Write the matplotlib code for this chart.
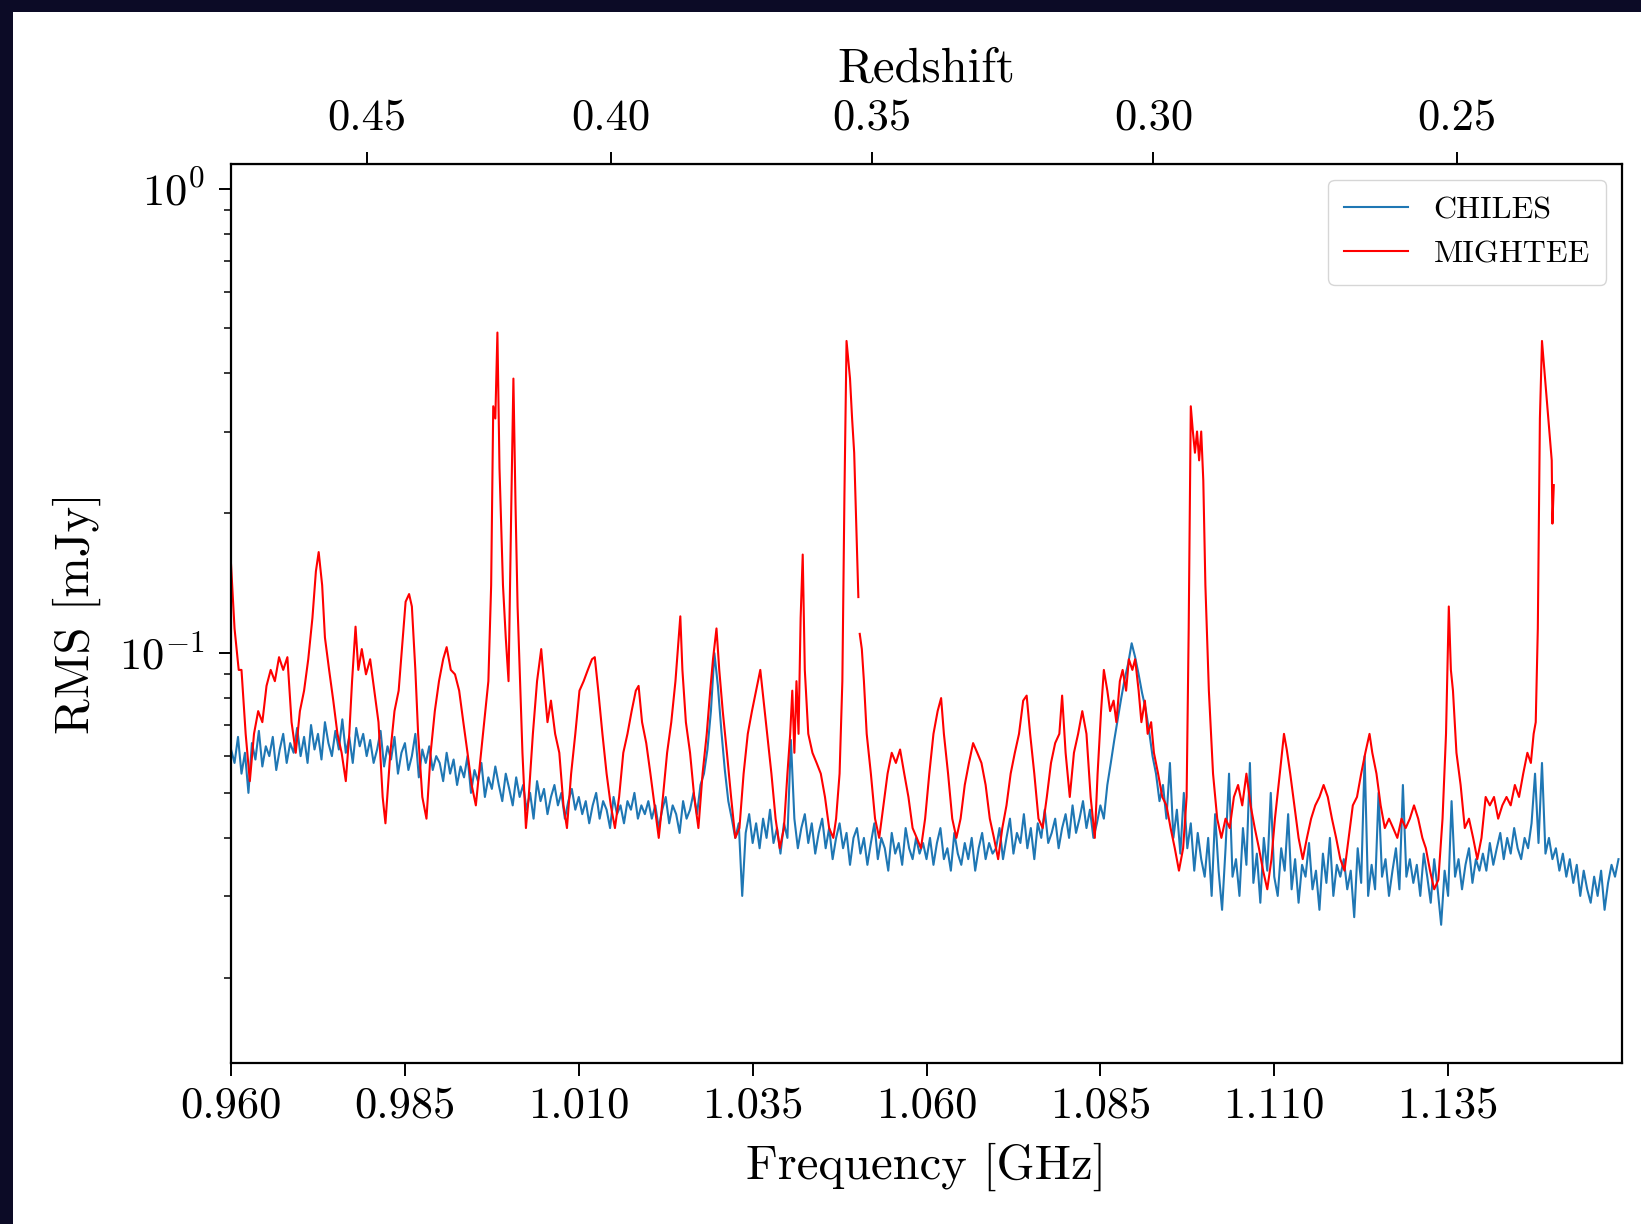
import numpy as np
import matplotlib
matplotlib.use("Agg")
import matplotlib.pyplot as plt
from matplotlib.patches import Rectangle
from matplotlib.ticker import FormatStrFormatter

plt.rcParams['font.family'] = 'serif'
plt.rcParams['font.serif'] = ['cmr10']
plt.rcParams['mathtext.fontset'] = 'cm'
plt.rcParams['axes.formatter.use_mathtext'] = True

HI_REST = 1.420405751  # GHz

# CHILES rms, one value per 0.5 MHz channel from 0.960 GHz
chiles_start = 0.960
chiles_step = 0.0005
chiles_rms = [
    0.062, 0.058, 0.066, 0.055, 0.061, 0.050, 0.064, 0.059, 0.068, 0.057, 0.063, 0.060, 0.066, 0.056, 0.062, 0.067, 0.058, 0.064, 0.061, 0.069,
    0.060, 0.066, 0.058, 0.070, 0.062, 0.067, 0.059, 0.071, 0.064, 0.060, 0.068, 0.062, 0.072, 0.061, 0.066, 0.058, 0.069, 0.063, 0.067, 0.060,
    0.065, 0.058, 0.062, 0.068, 0.057, 0.063, 0.059, 0.066, 0.055, 0.061, 0.064, 0.056, 0.060, 0.067, 0.054, 0.062, 0.058, 0.063, 0.056, 0.060,
    0.058, 0.053, 0.061, 0.055, 0.059, 0.052, 0.057, 0.054, 0.060, 0.050, 0.056, 0.053, 0.058, 0.049, 0.054, 0.051, 0.057, 0.052, 0.048, 0.055,
    0.051, 0.047, 0.054, 0.049, 0.052, 0.046, 0.050, 0.044, 0.053, 0.048, 0.051, 0.045, 0.049, 0.052, 0.047, 0.050, 0.044, 0.048, 0.051, 0.046,
    0.049, 0.045, 0.048, 0.043, 0.047, 0.050, 0.044, 0.048, 0.046, 0.042, 0.049, 0.045, 0.047, 0.043, 0.048, 0.046, 0.050, 0.044, 0.047, 0.045,
    0.048, 0.044, 0.047, 0.042, 0.046, 0.049, 0.043, 0.047, 0.045, 0.041, 0.048, 0.044, 0.046, 0.050, 0.045, 0.052, 0.055, 0.062, 0.075, 0.100,
    0.085, 0.068, 0.056, 0.048, 0.044, 0.040, 0.043, 0.030, 0.041, 0.045, 0.039, 0.043, 0.038, 0.044, 0.040, 0.046, 0.039, 0.042, 0.037, 0.043,
    0.040, 0.065, 0.044, 0.038, 0.042, 0.045, 0.039, 0.043, 0.037, 0.041, 0.044, 0.038, 0.042, 0.036, 0.040, 0.043, 0.038, 0.041, 0.035, 0.040,
    0.042, 0.037, 0.040, 0.035, 0.039, 0.043, 0.036, 0.040, 0.038, 0.034, 0.041, 0.037, 0.039, 0.035, 0.042, 0.038, 0.036, 0.040, 0.037, 0.039,
    0.036, 0.040, 0.035, 0.039, 0.042, 0.036, 0.038, 0.034, 0.041, 0.037, 0.035, 0.039, 0.036, 0.040, 0.034, 0.038, 0.041, 0.036, 0.039, 0.037,
    0.038, 0.042, 0.036, 0.040, 0.044, 0.037, 0.041, 0.039, 0.045, 0.038, 0.042, 0.036, 0.043, 0.040, 0.046, 0.039, 0.041, 0.044, 0.038, 0.042,
    0.045, 0.040, 0.047, 0.041, 0.044, 0.048, 0.042, 0.046, 0.040, 0.043, 0.047, 0.044, 0.052, 0.058, 0.065, 0.072, 0.080, 0.088, 0.095, 0.105,
    0.098, 0.090, 0.082, 0.076, 0.068, 0.060, 0.055, 0.048, 0.052, 0.044, 0.058, 0.040, 0.046, 0.037, 0.050, 0.038, 0.043, 0.034, 0.041, 0.036,
    0.033, 0.040, 0.030, 0.045, 0.034, 0.028, 0.038, 0.055, 0.033, 0.036, 0.030, 0.042, 0.035, 0.058, 0.032, 0.037, 0.029, 0.040, 0.034, 0.050,
    0.033, 0.030, 0.038, 0.034, 0.045, 0.031, 0.036, 0.029, 0.035, 0.033, 0.039, 0.031, 0.034, 0.028, 0.037, 0.032, 0.040, 0.030, 0.035, 0.033,
    0.036, 0.031, 0.034, 0.027, 0.038, 0.032, 0.060, 0.030, 0.035, 0.031, 0.050, 0.033, 0.036, 0.030, 0.034, 0.038, 0.031, 0.052, 0.033, 0.036,
    0.032, 0.035, 0.030, 0.037, 0.033, 0.029, 0.036, 0.031, 0.026, 0.034, 0.030, 0.048, 0.033, 0.036, 0.031, 0.035, 0.038, 0.032, 0.036, 0.034,
    0.037, 0.034, 0.039, 0.035, 0.038, 0.041, 0.036, 0.040, 0.037, 0.042, 0.038, 0.036, 0.040, 0.038, 0.043, 0.055, 0.039, 0.058, 0.037, 0.040,
    0.036, 0.038, 0.034, 0.037, 0.033, 0.036, 0.032, 0.035, 0.030, 0.034, 0.031, 0.029, 0.033, 0.030, 0.034, 0.028, 0.032, 0.035, 0.033, 0.036,
]

# MIGHTEE rms, traced (nan = flagged channel)
mightee_freq = [
    0.9600, 0.9605, 0.9611, 0.9615, 0.9621, 0.9627, 0.9633, 0.9639, 0.9645, 0.9651, 0.9657, 0.9663, 0.9669, 0.9675, 0.9681, 0.9687,
    0.9693, 0.9699, 0.9705, 0.9711, 0.9717, 0.9722, 0.9726, 0.9731, 0.9735, 0.9741, 0.9747, 0.9753, 0.9759, 0.9765, 0.9770, 0.9774,
    0.9779, 0.9783, 0.9788, 0.9794, 0.9800, 0.9806, 0.9812, 0.9818, 0.9822, 0.9829, 0.9835, 0.9841, 0.9847, 0.9851, 0.9856, 0.9860,
    0.9865, 0.9869, 0.9875, 0.9881, 0.9887, 0.9893, 0.9899, 0.9905, 0.9910, 0.9916, 0.9922, 0.9928, 0.9934, 0.9940, 0.9946, 0.9952,
    0.9958, 0.9964, 0.9970, 0.9974, 0.9977, 0.9980, 0.9983, 0.9986, 0.9991, 0.9995, 0.9999, 1.0003, 1.0006, 1.0009, 1.0012, 1.0015,
    1.0019, 1.0024, 1.0028, 1.0034, 1.0040, 1.0046, 1.0051, 1.0055, 1.0060, 1.0066, 1.0072, 1.0078, 1.0083, 1.0089, 1.0095, 1.0101,
    1.0107, 1.0113, 1.0119, 1.0123, 1.0128, 1.0134, 1.0140, 1.0146, 1.0152, 1.0158, 1.0164, 1.0170, 1.0176, 1.0182, 1.0186, 1.0191,
    1.0197, 1.0203, 1.0209, 1.0215, 1.0221, 1.0227, 1.0233, 1.0239, 1.0243, 1.0246, 1.0249, 1.0254, 1.0260, 1.0266, 1.0272, 1.0278,
    1.0284, 1.0289, 1.0293, 1.0298, 1.0302, 1.0307, 1.0313, 1.0319, 1.0325, 1.0331, 1.0337, 1.0343, 1.0349, 1.0355, 1.0361, 1.0365,
    1.0371, 1.0377, 1.0383, 1.0389, 1.0395, 1.0400, 1.0404, 1.0407, 1.0410, 1.0413, 1.0416, 1.0419, 1.0422, 1.0425, 1.0430, 1.0436,
    1.0442, 1.0448, 1.0454, 1.0460, 1.0466, 1.0470, 1.0475, 1.0479, 1.0482, 1.0485, 1.0490, 1.0493, 1.0496, 1.0499, 1.0502, 1.0503,
    1.0504, 1.0507, 1.0510, 1.0514, 1.0520, 1.0526, 1.0532, 1.0538, 1.0544, 1.0550, 1.0556, 1.0562, 1.0568, 1.0574, 1.0580, 1.0586,
    1.0592, 1.0598, 1.0604, 1.0610, 1.0616, 1.0621, 1.0625, 1.0631, 1.0637, 1.0643, 1.0649, 1.0655, 1.0661, 1.0667, 1.0673, 1.0679,
    1.0685, 1.0691, 1.0697, 1.0703, 1.0709, 1.0715, 1.0721, 1.0727, 1.0733, 1.0739, 1.0744, 1.0749, 1.0755, 1.0761, 1.0767, 1.0773,
    1.0779, 1.0785, 1.0791, 1.0795, 1.0800, 1.0806, 1.0812, 1.0818, 1.0824, 1.0830, 1.0836, 1.0842, 1.0846, 1.0851, 1.0855, 1.0860,
    1.0864, 1.0869, 1.0873, 1.0878, 1.0882, 1.0887, 1.0891, 1.0896, 1.0900, 1.0905, 1.0909, 1.0914, 1.0918, 1.0923, 1.0927, 1.0933,
    1.0939, 1.0945, 1.0951, 1.0957, 1.0963, 1.0969, 1.0974, 1.0977, 1.0980, 1.0983, 1.0986, 1.0989, 1.0992, 1.0995, 1.0998, 1.1001,
    1.1006, 1.1012, 1.1018, 1.1024, 1.1030, 1.1036, 1.1042, 1.1048, 1.1054, 1.1060, 1.1066, 1.1072, 1.1078, 1.1084, 1.1090, 1.1096,
    1.1101, 1.1108, 1.1114, 1.1118, 1.1123, 1.1129, 1.1135, 1.1141, 1.1147, 1.1153, 1.1159, 1.1165, 1.1171, 1.1177, 1.1183, 1.1189,
    1.1195, 1.1201, 1.1207, 1.1213, 1.1219, 1.1225, 1.1231, 1.1237, 1.1241, 1.1247, 1.1253, 1.1259, 1.1265, 1.1271, 1.1277, 1.1283,
    1.1289, 1.1295, 1.1301, 1.1307, 1.1313, 1.1318, 1.1324, 1.1330, 1.1336, 1.1342, 1.1347, 1.1351, 1.1354, 1.1357, 1.1362, 1.1368,
    1.1374, 1.1380, 1.1386, 1.1392, 1.1398, 1.1404, 1.1410, 1.1416, 1.1422, 1.1428, 1.1434, 1.1440, 1.1446, 1.1452, 1.1458, 1.1464,
    1.1469, 1.1473, 1.1476, 1.1479, 1.1482, 1.1485, 1.1490, 1.1494, 1.1499, 1.1500, 1.1502,
]
mightee_rms = [
    0.155, 0.113, 0.092, 0.092, 0.067, 0.053, 0.067, 0.075, 0.071, 0.085, 0.092, 0.087, 0.098, 0.092, 0.098, 0.071,
    0.061, 0.075, 0.083, 0.097, 0.119, 0.150, 0.165, 0.140, 0.108, 0.092, 0.079, 0.067, 0.061, 0.053, 0.067, 0.087,
    0.114, 0.092, 0.102, 0.090, 0.097, 0.083, 0.071, 0.049, 0.043, 0.061, 0.075, 0.083, 0.108, 0.129, 0.134, 0.126,
    0.092, 0.067, 0.049, 0.044, 0.061, 0.075, 0.087, 0.097, 0.103, 0.092, 0.090, 0.083, 0.071, 0.061, 0.052, 0.047,
    0.058, 0.071, 0.087, 0.140, 0.340, 0.320, 0.490, 0.250, 0.140, 0.108, 0.087, 0.210, 0.390, 0.210, 0.126, 0.092,
    0.061, 0.042, 0.049, 0.067, 0.087, 0.102, 0.083, 0.071, 0.079, 0.067, 0.061, 0.047, 0.042, 0.055, 0.067, 0.083,
    0.087, 0.092, 0.097, 0.098, 0.083, 0.067, 0.055, 0.047, 0.042, 0.049, 0.061, 0.067, 0.075, 0.083, 0.085, 0.071,
    0.064, 0.055, 0.047, 0.040, 0.049, 0.061, 0.071, 0.087, 0.105, 0.120, 0.092, 0.071, 0.061, 0.049, 0.042, 0.055,
    0.067, 0.083, 0.097, 0.113, 0.092, 0.075, 0.061, 0.049, 0.040, 0.042, 0.055, 0.067, 0.075, 0.083, 0.092, 0.081,
    0.067, 0.055, 0.044, 0.038, 0.042, 0.055, 0.067, 0.083, 0.061, 0.087, 0.067, 0.119, 0.163, 0.092, 0.067, 0.061,
    0.058, 0.055, 0.049, 0.042, 0.040, 0.044, 0.055, 0.087, 0.220, 0.470, 0.390, 0.320, 0.270, 0.190, 0.132, np.nan,
    0.110, 0.102, 0.087, 0.067, 0.055, 0.044, 0.040, 0.047, 0.055, 0.061, 0.058, 0.062, 0.055, 0.049, 0.042, 0.040,
    0.038, 0.044, 0.055, 0.067, 0.075, 0.080, 0.067, 0.055, 0.044, 0.040, 0.044, 0.052, 0.058, 0.064, 0.061, 0.058,
    0.052, 0.044, 0.040, 0.036, 0.042, 0.047, 0.055, 0.061, 0.067, 0.079, 0.081, 0.067, 0.055, 0.044, 0.042, 0.049,
    0.058, 0.064, 0.067, 0.081, 0.061, 0.049, 0.061, 0.067, 0.075, 0.067, 0.049, 0.040, 0.055, 0.075, 0.092, 0.083,
    0.075, 0.079, 0.071, 0.087, 0.092, 0.083, 0.097, 0.092, 0.097, 0.083, 0.071, 0.079, 0.067, 0.071, 0.061, 0.055,
    0.049, 0.047, 0.042, 0.038, 0.034, 0.038, 0.049, 0.113, 0.340, 0.300, 0.270, 0.300, 0.260, 0.300, 0.235, 0.140,
    0.083, 0.055, 0.044, 0.040, 0.044, 0.042, 0.049, 0.052, 0.047, 0.055, 0.047, 0.042, 0.038, 0.034, 0.031, 0.036,
    0.044, 0.055, 0.067, 0.062, 0.055, 0.047, 0.040, 0.036, 0.040, 0.044, 0.047, 0.049, 0.052, 0.049, 0.044, 0.040,
    0.036, 0.034, 0.040, 0.047, 0.049, 0.055, 0.061, 0.067, 0.061, 0.055, 0.047, 0.042, 0.044, 0.042, 0.040, 0.044,
    0.042, 0.044, 0.047, 0.044, 0.040, 0.038, 0.034, 0.031, 0.0325, 0.044, 0.067, 0.126, 0.092, 0.083, 0.061, 0.052,
    0.042, 0.044, 0.040, 0.036, 0.040, 0.049, 0.047, 0.049, 0.044, 0.047, 0.049, 0.047, 0.052, 0.049, 0.055, 0.061,
    0.058, 0.067, 0.071, 0.113, 0.320, 0.470, 0.380, 0.320, 0.260, 0.190, 0.230,
]

freq_ticks = [0.960, 0.985, 1.010, 1.035, 1.060, 1.085, 1.110, 1.135]
z_ticks = [0.45, 0.40, 0.35, 0.30, 0.25]

chiles_freq = chiles_start + chiles_step * np.arange(len(chiles_rms))


def freq_to_z(f):
    return HI_REST / np.asarray(f, dtype=float) - 1


def z_to_freq(z):
    return HI_REST / (1 + np.asarray(z, dtype=float))


fig = plt.figure(figsize=(16.41, 12.24), dpi=100, facecolor='#0c0b26')
# white page on the dark backdrop
fig.patches.append(Rectangle((13 / 1641, 0), 1, 1 - 12 / 1224, transform=fig.transFigure,
                             facecolor='white', edgecolor='none', zorder=-10))

ax = fig.add_axes([0.1408, 0.1315, 0.8476, 0.7345])
ax.plot(chiles_freq, chiles_rms, color='#1f77b4', lw=1.5, label='CHILES')
ax.plot(mightee_freq, mightee_rms, color='red', lw=1.5, label='MIGHTEE')

ax.set_yscale('log')
ax.set_xlim(0.960, 1.160)
ax.set_ylim(0.0131, 1.13)
ax.set_xticks(freq_ticks)
ax.xaxis.set_major_formatter(FormatStrFormatter('%.3f'))
ax.set_xlabel('Frequency [GHz]', fontsize=35, labelpad=12)
ax.set_ylabel('RMS [mJy]', fontsize=35, labelpad=13)
ax.tick_params(axis='both', which='major', labelsize=32, length=9, width=1.4)
ax.tick_params(axis='x', which='major', pad=7.5)
ax.tick_params(axis='y', which='major', pad=10)
ax.tick_params(axis='y', which='minor', length=5, width=1.1)
ax.tick_params(axis='x', which='both', top=False)
for sp in ax.spines.values():
    sp.set_linewidth(1.6)

secax = ax.secondary_xaxis('top', functions=(freq_to_z, z_to_freq))
secax.set_xticks(z_ticks)
secax.xaxis.set_major_formatter(FormatStrFormatter('%.2f'))
secax.tick_params(labelsize=32, length=9, width=1.4, pad=9.5)
secax.set_xlabel('Redshift', fontsize=35, labelpad=12)

ax.legend(loc='upper right', fontsize=23, borderpad=0.5, handlelength=2.0)

fig.savefig('out.png', dpi=100, facecolor=fig.get_facecolor())
